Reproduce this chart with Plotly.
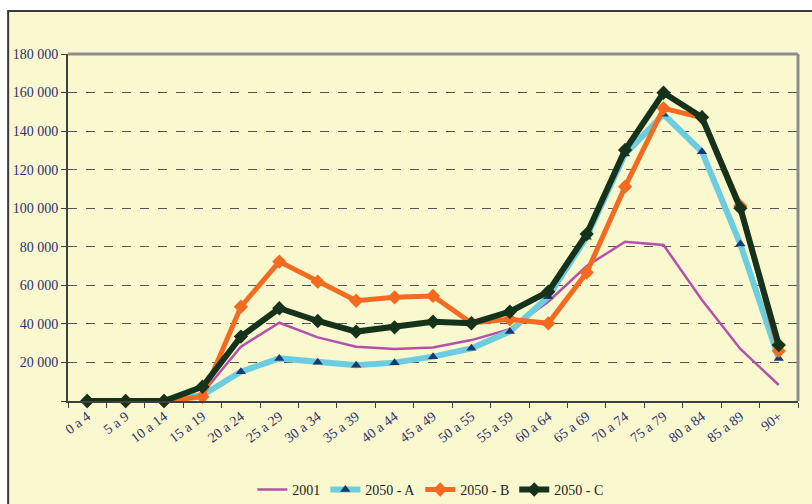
import plotly.graph_objects as go

categories = ["0 a 4", "5 a 9", "10 a 14", "15 a 19", "20 a 24", "25 a 29", "30 a 34",
              "35 a 39", "40 a 44", "45 a 49", "50 a 55", "55 a 59", "60 a 64", "65 a 69",
              "70 a 74", "75 a 79", "80 a 84", "85 a 89", "90+"]

s2001 = [0, 0, 0, 4000, 28200, 40600, 33000, 28200, 27000, 27800, 31600, 37200, 51500,
         70000, 82600, 80900, 52400, 27000, 8300]
s2050a = [0, 0, 0, 3000, 15200, 22100, 20100, 18500, 19900, 23000, 27300, 36000, 54100,
          85000, 128100, 148700, 129300, 81400, 22000]
s2050b = [0, 0, 0, 2200, 48900, 72300, 61900, 52000, 53800, 54500, 40500, 42400, 40300,
          66600, 111200, 151800, 147000, 101200, 26000]
s2050c = [0, 0, 0, 7400, 33400, 48100, 41500, 36000, 38200, 41100, 40300, 46300, 56700,
          86600, 130200, 159900, 147200, 100000, 29000]

y_tick_vals = [0, 20000, 40000, 60000, 80000, 100000, 120000, 140000, 160000, 180000]
y_tick_text = ["", "20 000", "40 000", "60 000", "80 000", "100 000", "120 000",
               "140 000", "160 000", "180 000"]

BG = "#FAF8CE"
FONT = "Liberation Serif"
NAVY = "#2E3170"

fig = go.Figure()
fig.add_trace(go.Scatter(x=categories, y=s2001, name="2001", mode="lines",
                         line=dict(color="#B450AE", width=2.5), cliponaxis=False))
fig.add_trace(go.Scatter(x=categories, y=s2050a, name="2050 - A", mode="lines+markers",
                         line=dict(color="#6CCCE0", width=6),
                         marker=dict(symbol="triangle-up", size=9, color="#1B3A6B"),
                         cliponaxis=False))
fig.add_trace(go.Scatter(x=categories, y=s2050b, name="2050 - B", mode="lines+markers",
                         line=dict(color="#F26B21", width=5),
                         marker=dict(symbol="diamond", size=11, color="#F26B21"),
                         cliponaxis=False))
fig.add_trace(go.Scatter(x=categories, y=s2050c, name="2050 - C", mode="lines+markers",
                         line=dict(color="#15321A", width=6),
                         marker=dict(symbol="diamond", size=11, color="#15321A"),
                         cliponaxis=False))

fig.update_layout(
    width=812, height=504,
    margin=dict(l=68, r=14, t=54, b=103, autoexpand=False),
    paper_bgcolor="white", plot_bgcolor=BG,
    font=dict(family=FONT, color=NAVY, size=14),
    showlegend=True,
    legend=dict(orientation="h", x=0.53, xanchor="center", xref="container",
                y=0.028, yanchor="middle", yref="container",
                font=dict(family=FONT, size=14, color="#222222"), bgcolor="rgba(0,0,0,0)",
                tracegroupgap=0),
    shapes=[
        dict(type="rect", xref="paper", yref="paper", x0=-0.082, x1=1.03, y0=-0.33, y1=1.124,
             fillcolor=BG, line=dict(color="#3A3A3A", width=2), layer="below"),
        dict(type="line", xref="paper", yref="paper", x0=0, x1=1, y0=1, y1=1,
             line=dict(color="#8C8C8C", width=3)),
        dict(type="line", xref="paper", yref="paper", x0=1, x1=1, y0=0, y1=1,
             line=dict(color="#8C8C8C", width=3)),
    ],
)

fig.update_xaxes(type="category", tickson="boundaries", ticks="outside", ticklen=5,
                 tickcolor="#404040", showline=True, linecolor="#404040", linewidth=2,
                 showgrid=False, tickangle=-37, automargin=False,
                 tickfont=dict(family=FONT, size=14, color=NAVY),
                 range=[-0.5, 18.5])
fig.update_yaxes(range=[0, 180000], tickvals=y_tick_vals, ticktext=y_tick_text,
                 ticks="outside", ticklen=5, tickcolor="#404040", showline=True,
                 linecolor="#404040", linewidth=2, showgrid=True, gridcolor="#555555",
                 griddash="dash", gridwidth=1, zeroline=False, automargin=False,
                 tickfont=dict(family=FONT, size=14, color=NAVY))

fig.write_html("out.html", config={"displayModeBar": False},
               post_script="document.body.style.margin='0';")
